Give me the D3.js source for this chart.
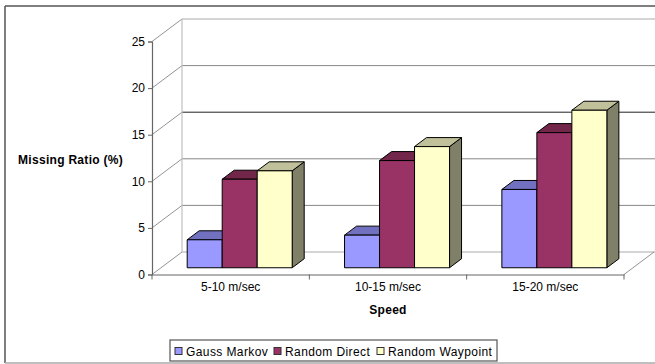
<!DOCTYPE html>
<html>
<head>
<meta charset="utf-8">
<script src="https://cdn.jsdelivr.net/npm/d3@7"></script>
<style>
  html, body { margin: 0; padding: 0; background: #fff; }
  svg { display: block; font-family: "Liberation Sans", Arial, sans-serif; }
</style>
</head>
<body>
<svg id="chart" width="655" height="364"></svg>
<script>
// Missing ratio by speed band for three mobility models
const categories = ["5-10 m/sec", "10-15 m/sec", "15-20 m/sec"];
const seriesNames = ["Gauss Markov", "Random Direct", "Random Waypoint"];
const gaussMarkov = [3.0, 3.5, 8.4];
const randomDirect = [9.5, 11.5, 14.5];
const randomWaypoint = [10.4, 13.0, 16.9];
const yTicks = [0, 5, 10, 15, 20, 25];

const seriesValues = [gaussMarkov, randomDirect, randomWaypoint];
const faceColors = [
  { front: "#9999FF", top: "#7171C0", side: "#5C5CA0" },
  { front: "#993366", top: "#722649", side: "#5E1F3C" },
  { front: "#FFFFCC", top: "#C0C09A", side: "#808068" }
];

const svg = d3.select("#chart");

// outer frame
svg.append("line").attr("x1", 5).attr("y1", 6).attr("x2", 660).attr("y2", 6)
  .attr("stroke", "#555").attr("stroke-width", 1.5);
svg.append("line").attr("x1", 5).attr("y1", 6).attr("x2", 5).attr("y2", 363)
  .attr("stroke", "#555").attr("stroke-width", 1.5);
svg.append("line").attr("x1", 5).attr("y1", 363).attr("x2", 660).attr("y2", 363)
  .attr("stroke", "#aaa").attr("stroke-width", 1.5);

// front-plane scales and depth vector of the 3D box
const x0 = d3.scaleBand().domain(categories).range([152, 624]).padding(0);
const x1 = d3.scaleBand().domain(seriesNames).range([26.2, 131.2]).padding(0);
const y = d3.scaleLinear().domain([0, 25]).range([274.5, 41.5]);
const DX = 30, DY = -22.5;
const zFront = 0.3, zBack = 0.7;

// back wall gridlines
const gridColor = v => (v === 15 ? "#222" : v === 25 ? "#aaa" : v === 0 ? "#aaa" : "#888");
svg.append("g").selectAll("line").data(yTicks).join("line")
  .attr("x1", 152 + DX).attr("x2", 656)
  .attr("y1", d => y(d) + DY).attr("y2", d => y(d) + DY)
  .attr("stroke", gridColor).attr("stroke-width", 1);

// diagonals from the value axis to the back wall
svg.append("g").selectAll("line").data(yTicks).join("line")
  .attr("x1", 152).attr("y1", d => y(d))
  .attr("x2", 152 + DX).attr("y2", d => y(d) + DY)
  .attr("stroke", "#777").attr("stroke-width", 0.8);

// back wall left edge
svg.append("line")
  .attr("x1", 152 + DX).attr("y1", y(25) + DY)
  .attr("x2", 152 + DX).attr("y2", y(0) + DY)
  .attr("stroke", "#c0c0c0").attr("stroke-width", 1.2);

// floor right edge
svg.append("line")
  .attr("x1", 624).attr("y1", y(0))
  .attr("x2", 624 + DX).attr("y2", y(0) + DY)
  .attr("stroke", "#777").attr("stroke-width", 0.8);

// value axis
const yAxis = d3.axisLeft(y).tickValues(yTicks).tickSize(4).tickPadding(3);
const gy = svg.append("g").attr("transform", "translate(152,0)").call(yAxis);
gy.select(".domain").attr("stroke", "#666").attr("stroke-width", 1.2);
gy.selectAll(".tick line").attr("stroke", "#666");
gy.selectAll(".tick text").attr("font-size", 12).attr("fill", "#000")
  .attr("font-family", "'Liberation Sans', Arial, sans-serif");

// category axis
const xAxis = d3.axisBottom(x0).tickSize(0).tickPadding(8);
const gx = svg.append("g").attr("transform", `translate(0,${y(0)})`).call(xAxis);
gx.select(".domain").attr("stroke", "#666").attr("stroke-width", 1.2);
gx.selectAll(".tick text").attr("font-size", 12).attr("fill", "#000")
  .attr("font-family", "'Liberation Sans', Arial, sans-serif");
svg.append("g").selectAll("line").data(categories.map((c, i) => i).concat([categories.length]))
  .join("line")
  .attr("x1", i => 152 + i * x0.bandwidth()).attr("x2", i => 152 + i * x0.bandwidth())
  .attr("y1", y(0)).attr("y2", y(0) + 5)
  .attr("stroke", "#666").attr("stroke-width", 1);

// 3D bars, drawn left to right so each bar hides its neighbour's side
const fx = DX * zFront, fy = DY * zFront;
const bx = DX * (zBack - zFront), by = DY * (zBack - zFront);
const barsG = svg.append("g");
categories.forEach((cat, ci) => {
  seriesNames.forEach((name, si) => {
    const v = seriesValues[si][ci];
    const xl = x0(cat) + x1(name) + fx;
    const xr = xl + x1.bandwidth();
    const yt = y(v) + fy;
    const yb = y(0) + fy;
    const c = faceColors[si];
    const g = barsG.append("g").attr("stroke", "#000").attr("stroke-width", 1)
      .attr("stroke-linejoin", "round");
    g.append("path")
      .attr("d", `M${xr},${yt}L${xr + bx},${yt + by}L${xr + bx},${yb + by}L${xr},${yb}Z`)
      .attr("fill", c.side);
    g.append("path")
      .attr("d", `M${xl},${yt}L${xl + bx},${yt + by}L${xr + bx},${yt + by}L${xr},${yt}Z`)
      .attr("fill", c.top);
    g.append("rect")
      .attr("x", xl).attr("y", yt).attr("width", xr - xl).attr("height", yb - yt)
      .attr("fill", c.front);
  });
});

// axis titles
svg.append("text").attr("x", 18).attr("y", 163.5)
  .attr("font-size", 12).attr("font-weight", "bold").attr("letter-spacing", 0.3)
  .text("Missing Ratio (%)");
svg.append("text").attr("x", 388).attr("y", 313.5).attr("text-anchor", "middle")
  .attr("font-size", 12).attr("font-weight", "bold").attr("letter-spacing", 0.3)
  .text("Speed");

// legend
const legend = svg.append("g");
legend.append("rect").attr("x", 170).attr("y", 340).attr("width", 327).attr("height", 21)
  .attr("fill", "#fff").attr("stroke", "#555").attr("stroke-width", 1.2);
const legendX = [175, 274, 377];
seriesNames.forEach((name, i) => {
  legend.append("rect").attr("x", legendX[i]).attr("y", 347.5).attr("width", 7).attr("height", 7)
    .attr("fill", faceColors[i].front).attr("stroke", "#333").attr("stroke-width", 1);
  legend.append("text").attr("x", legendX[i] + 11).attr("y", 355.5)
    .attr("font-size", 12).attr("letter-spacing", 0.4).text(name);
});
</script>
</body>
</html>
